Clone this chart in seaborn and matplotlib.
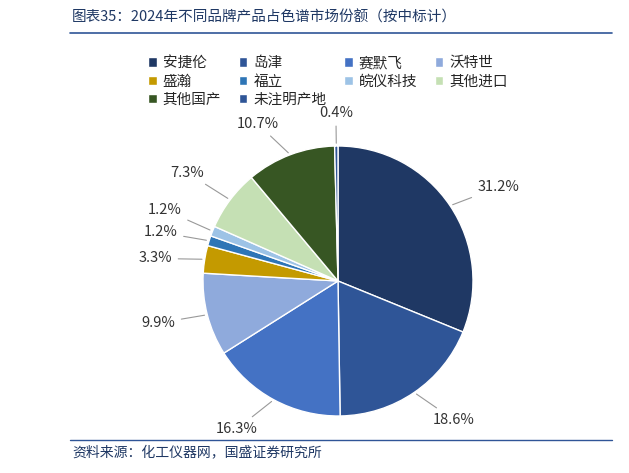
import matplotlib
matplotlib.use("Agg")
import matplotlib.pyplot as plt
import seaborn as sns
import numpy as np

sns.set_theme(style="white")
plt.rcParams['font.family'] = ['Noto Sans CJK SC', 'DejaVu Sans']

brands = ["安捷伦", "岛津", "赛默飞", "沃特世", "盛瀚", "福立", "皖仪科技", "其他进口", "其他国产", "未注明产地"]
shares = [31.2, 18.6, 16.3, 9.9, 3.3, 1.2, 1.2, 7.3, 10.7, 0.4]
labels = ["31.2%", "18.6%", "16.3%", "9.9%", "3.3%", "1.2%", "1.2%", "7.3%", "10.7%", "0.4%"]
colors = ["#1F3864", "#2F5597", "#4472C4", "#8FAADC", "#C49A00", "#2E75B6", "#9DC3E6", "#C5E0B4", "#375623", "#2F5597"]

W, H = 629, 473
fig = plt.figure(figsize=(W/100, H/100), dpi=100)
ax = fig.add_axes([(338-150)/W, (473-281-150)/H, 300/W, 300/H])
wedges, _ = ax.pie(shares, colors=colors, startangle=90, counterclock=False,
                   radius=0.9, wedgeprops=dict(edgecolor="white", linewidth=1))
ax.set_xlim(-1, 1); ax.set_ylim(-1, 1); ax.set_aspect("equal"); ax.axis("off")

yshift = {4: -0.03, 5: -0.01, 6: 0.06, 7: 0.05}
for i, (w, lab) in enumerate(zip(wedges, labels)):
    ang = np.deg2rad((w.theta1 + w.theta2) / 2)
    x, y = np.cos(ang), np.sin(ang)
    tx, ty = 1.12 * x, 1.12 * y + yshift.get(i, 0)
    ha = "left" if x > 0.05 else ("right" if x < -0.05 else "center")
    ax.annotate(lab, xy=(0.9 * x, 0.9 * y), xytext=(tx, ty), ha=ha, va="center",
                fontsize=10.5, color="#333333",
                arrowprops=dict(arrowstyle="-", color="#999999", lw=0.8))

order = [0, 4, 8, 1, 5, 9, 2, 6, 3, 7]
fig.legend([wedges[i] for i in order], [brands[i] for i in order], loc="upper left",
           bbox_to_anchor=(135/W, 1-43/H), ncol=4,
           frameon=False, fontsize=10.5, handlelength=0.6, handleheight=0.6,
           columnspacing=1.2, handletextpad=0.4, labelspacing=0.3)

fig.text(72/W, 1-17/H, "图表35：2024年不同品牌产品占色谱市场份额（按中标计）", fontsize=10.5,
         style="italic", color="#1F3864", va="center")
fig.add_artist(plt.Line2D([70/W, 612/W], [1-33/H, 1-33/H], color="#2F5597", lw=1.2))
fig.add_artist(plt.Line2D([70/W, 612/W], [1-440/H, 1-440/H], color="#2F5597", lw=1.0))
fig.text(72/W, 1-453/H, "资料来源：化工仪器网，国盛证券研究所", fontsize=10,
         style="italic", color="#1F3864", va="center")

fig.savefig("out.png", dpi=100)
